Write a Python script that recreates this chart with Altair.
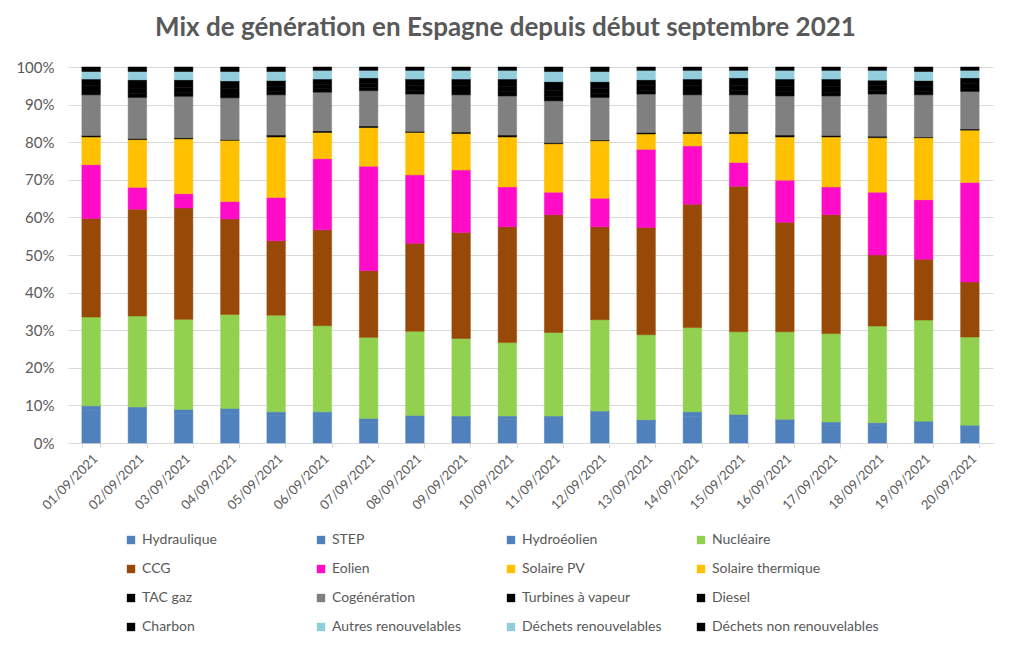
import altair as alt
import pandas as pd

dates = ["01/09/2021", "02/09/2021", "03/09/2021", "04/09/2021", "05/09/2021",
         "06/09/2021", "07/09/2021", "08/09/2021", "09/09/2021", "10/09/2021",
         "11/09/2021", "12/09/2021", "13/09/2021", "14/09/2021", "15/09/2021",
         "16/09/2021", "17/09/2021", "18/09/2021", "19/09/2021", "20/09/2021"]

hydraulique = [8.7, 8.5, 7.9, 7.9, 7.4, 7.2, 5.5, 6.1, 6.1, 6.2, 6.1, 7.2, 5.3, 7.1, 6.5, 5.3, 4.7, 4.6, 4.8, 4.0]
step = [1.1, 1.0, 0.9, 1.2, 0.8, 1.0, 0.9, 1.1, 1.0, 0.9, 1.0, 1.2, 0.8, 1.1, 1.0, 0.9, 0.8, 0.7, 0.9, 0.6]
hydroeolien = [0.1, 0.1, 0.1, 0.1, 0.1, 0.1, 0.1, 0.1, 0.1, 0.1, 0.1, 0.1, 0.1, 0.1, 0.1, 0.1, 0.1, 0.1, 0.1, 0.1]
nucleaire = [23.6, 24.2, 24.0, 25.0, 25.7, 22.9, 21.6, 22.4, 20.6, 19.5, 22.2, 24.3, 22.6, 22.4, 22.0, 23.3, 23.5, 25.7, 26.9, 23.5]
ccg = [26.2, 28.4, 29.6, 25.4, 19.8, 25.5, 17.7, 23.4, 28.2, 30.8, 31.3, 24.7, 28.5, 32.8, 38.7, 29.1, 31.6, 18.9, 16.2, 14.6]
eolien = [14.3, 5.8, 3.8, 4.6, 11.5, 18.9, 27.8, 18.2, 16.6, 10.6, 6.0, 7.6, 20.8, 15.5, 6.3, 11.2, 7.4, 16.7, 15.8, 26.5]
solaire_pv = [4.9, 10.4, 12.0, 13.5, 13.4, 5.5, 8.4, 9.3, 7.9, 10.9, 10.7, 12.7, 3.3, 2.6, 6.3, 9.4, 10.9, 12.0, 13.7, 11.5]
solaire_th = [2.5, 2.3, 2.6, 2.8, 2.7, 1.5, 1.9, 2.0, 1.8, 2.4, 2.2, 2.6, 0.8, 0.7, 1.4, 2.1, 2.4, 2.5, 2.8, 2.4]
tac_gaz = [0.4, 0.3, 0.3, 0.2, 0.5, 0.4, 0.4, 0.3, 0.4, 0.5, 0.3, 0.2, 0.4, 0.4, 0.4, 0.5, 0.4, 0.4, 0.2, 0.3]
cogeneration = [10.8, 10.9, 11.0, 11.1, 10.7, 10.3, 9.4, 9.9, 9.9, 10.4, 11.1, 11.3, 10.2, 9.9, 9.9, 10.4, 10.5, 11.2, 11.2, 10.0]
turbines = [1.0, 1.1, 1.0, 1.0, 0.9, 0.9, 0.8, 1.0, 1.0, 1.1, 1.2, 1.0, 0.9, 1.0, 1.1, 1.1, 1.0, 0.9, 0.9, 0.9]
diesel = [1.4, 1.4, 1.4, 1.5, 1.3, 1.2, 1.2, 1.3, 1.4, 1.4, 1.5, 1.4, 1.3, 1.4, 1.4, 1.4, 1.5, 1.3, 1.3, 1.2]
charbon = [1.8, 2.2, 2.0, 2.0, 1.6, 1.4, 1.4, 1.7, 1.8, 2.0, 2.4, 1.8, 1.6, 1.8, 2.0, 2.0, 2.0, 1.5, 1.6, 1.5]
autres_ren = [1.5, 1.7, 1.7, 1.9, 1.9, 1.8, 1.6, 1.8, 1.8, 1.8, 2.1, 2.1, 2.0, 1.8, 1.6, 1.8, 1.8, 2.0, 1.9, 1.6]
dechets_ren = [0.5, 0.5, 0.5, 0.6, 0.5, 0.5, 0.4, 0.5, 0.5, 0.5, 0.6, 0.6, 0.5, 0.5, 0.4, 0.5, 0.5, 0.6, 0.5, 0.4]
dechets_nonren = [1.2, 1.2, 1.2, 1.2, 1.2, 0.9, 0.9, 0.9, 0.9, 0.9, 1.2, 1.2, 0.9, 0.9, 0.9, 0.9, 0.9, 0.9, 1.2, 0.9]

series_names = ["Hydraulique", "STEP", "Hydroéolien", "Nucléaire", "CCG", "Eolien",
                "Solaire PV", "Solaire thermique", "TAC gaz", "Cogénération",
                "Turbines à vapeur", "Diesel", "Charbon", "Autres renouvelables",
                "Déchets renouvelables", "Déchets non renouvelables"]
series_values = [hydraulique, step, hydroeolien, nucleaire, ccg, eolien, solaire_pv,
                 solaire_th, tac_gaz, cogeneration, turbines, diesel, charbon,
                 autres_ren, dechets_ren, dechets_nonren]
series_colors = ["#4F81BD", "#4F81BD", "#4F81BD", "#92D050", "#984807", "#FF0BC8",
                 "#FFC000", "#FFC000", "#000000", "#808080", "#000000", "#000000",
                 "#000000", "#92CDDC", "#92CDDC", "#000000"]

rows = []
for i, (name, vals) in enumerate(zip(series_names, series_values)):
    for d, v in zip(dates, vals):
        rows.append({"date": d, "source": name, "value": v, "idx": i})
df = pd.DataFrame(rows)

FONT = "Lato"
GREY = "#595959"

color_scale = alt.Scale(domain=series_names, range=series_colors)

chart = alt.Chart(df).mark_bar(strokeWidth=0.5).encode(
    x=alt.X("date:N", sort=dates, title=None,
            scale=alt.Scale(paddingInner=0.6, paddingOuter=0.3),
            axis=alt.Axis(labelAngle=-45, labelFontSize=13, labelColor=GREY,
                          labelFont=FONT, domainColor="#D9D9D9", tickColor="#D9D9D9",
                          tickBand="extent", tickSize=5, labelPadding=4)),
    y=alt.Y("value:Q", stack="normalize", title=None,
            scale=alt.Scale(domain=[0, 1]),
            axis=alt.Axis(format=".0%", values=[i / 10 for i in range(11)],
                          labelFontSize=15, labelColor=GREY, labelFont=FONT,
                          domain=False, ticks=False, labelPadding=14,
                          gridColor="#D9D9D9", gridWidth=1)),
    color=alt.Color("source:N", scale=color_scale,
                    legend=alt.Legend(title=None, orient="none", legendX=56, legendY=466,
                                      direction="horizontal",
                                      columns=4, symbolType="square", symbolSize=70,
                                      symbolStrokeWidth=0, labelFontSize=14,
                                      labelColor=GREY, labelFont=FONT,
                                      rowPadding=15, columnPadding=5,
                                      gridAlign="all", labelLimit=300)),
    stroke=alt.Stroke("source:N", scale=color_scale, legend=None),
    order=alt.Order("idx:Q", sort="ascending"),
).properties(
    width=925,
    height=376,
    title=alt.TitleParams("Mix de génération en Espagne depuis début septembre 2021",
                          fontSize=26, font=FONT, fontWeight="bold", color=GREY,
                          anchor="middle", dx=-25, offset=19),
    autosize=alt.AutoSizeParams(type="none"),
    padding={"left": 60, "top": 59, "right": 10, "bottom": 190},
).configure_view(stroke=None)

chart.save("out.html", embed_options={"renderer": "svg", "actions": False})
